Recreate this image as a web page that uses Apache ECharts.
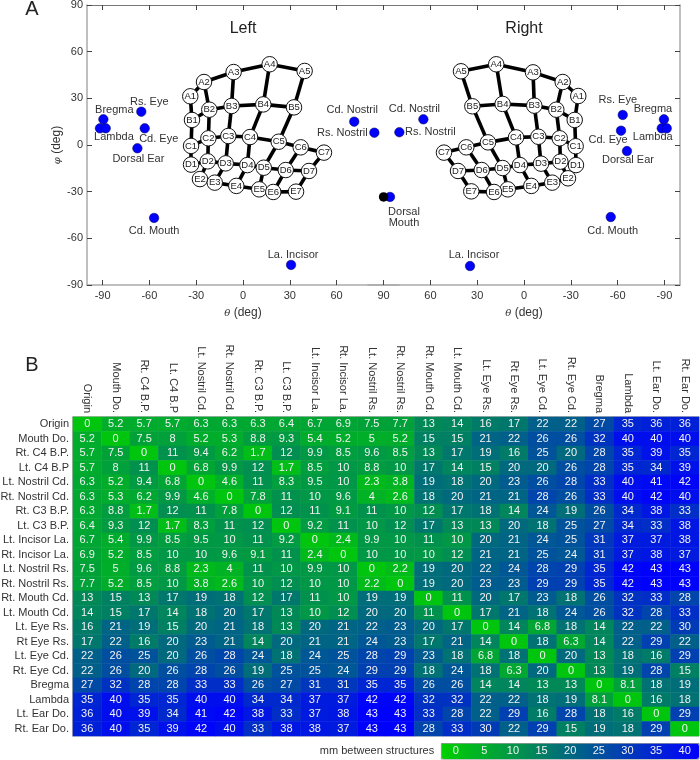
<!DOCTYPE html>
<html>
<head>
<meta charset="utf-8">
<style>
  html, body { margin: 0; padding: 0; background: #fff; }
  #main { width: 700px; height: 760px; }
</style>
<script src="https://cdn.jsdelivr.net/npm/echarts@6/dist/echarts.min.js"></script>
</head>
<body>
<div id="main"></div>
<script>
// Electrode mesh on each hemisphere: names and angular positions in degrees.
const meshNames = ['A1','A2','A3','A4','A5','B1','B2','B3','B4','B5',
  'C1','C2','C3','C4','C5','C6','C7','D1','D2','D3','D4','D5','D6','D7',
  'E2','E3','E4','E5','E6','E7'];
const leftMeshTheta = [-33.8,-25,-6,17.1,39.5,-32.7,-21.6,-7.3,13,32.7,
  -33.3,-22.2,-9.4,4.5,22.9,37,51.9,-33.3,-22.6,-11.1,2.8,13.3,27.4,42.3,
  -27.6,-18.1,-4.3,10.4,19.4,34];
const leftMeshPhi = [31.3,40.5,46.9,51.9,47.6,16.1,22.7,25.1,26.1,24.2,
  -0.6,4.3,5.8,5.1,2.1,-1.5,-4.9,-12.6,-10.5,-11.8,-12.9,-14.6,-16.1,-16.7,
  -21.9,-24.2,-26.3,-28.5,-30.2,-30];
const rightMeshTheta = [-34.8,-24.8,-5.8,17.8,40.4,-32.5,-20.7,-6.6,13.7,33.1,
  -33.1,-22.9,-9.2,5.1,23.1,37,51.3,-33.3,-23.3,-10.9,2.6,13.7,27.1,42.3,
  -28.2,-18.1,-4.7,10.4,19.2,33.8];
const rightMeshPhi = [31.5,40.5,46.7,51.9,47.4,16.1,22.7,25.3,26.4,24.9,
  -0.8,4.3,5.3,4.9,1.7,-1.5,-4.9,-12.9,-10.7,-12,-12.9,-14.8,-16.1,-16.7,
  -21.4,-24.2,-26.3,-28.5,-30.2,-29.8];
const meshEdges = [
  ['A1','A2'],['A2','A3'],['A3','A4'],['A4','A5'],
  ['A1','B1'],['A2','B2'],['A3','B3'],['A4','B4'],['A5','B5'],
  ['B1','B2'],['B2','B3'],['B3','B4'],['B4','B5'],
  ['B1','C1'],['B2','C2'],['B3','C3'],['B4','C4'],['B5','C5'],
  ['C1','C2'],['C2','C3'],['C3','C4'],['C4','C5'],['C5','C6'],['C6','C7'],
  ['C1','D1'],['C2','D2'],['C3','D3'],['C4','D4'],['C5','D5'],['C6','D6'],['C7','D7'],
  ['D1','D2'],['D2','D3'],['D3','D4'],['D4','D5'],['D5','D6'],['D6','D7'],
  ['D2','E2'],['D3','E3'],['D4','E4'],['D5','E5'],['D6','E6'],['D7','E7'],
  ['E2','E3'],['E3','E4'],['E4','E5'],['E5','E6'],['E6','E7']
];

// Anatomical landmarks on each hemisphere.
const leftMarkNames = ['Rs. Eye','Bregma','Lambda','','Cd. Eye','Dorsal Ear','Cd. Mouth','La. Incisor','Cd. Nostril','Rs. Nostril'];
const leftMarkTheta = [-65.2,-89.5,-91.7,-88,-63,-67.7,-57,30.8,71.3,84.2];
const leftMarkPhi = [21.4,16.5,10.7,10.7,10.7,-2.1,-46.9,-77.1,15,7.9];
const rightMarkNames = ['Rs. Eye','Bregma','Lambda','','Cd. Eye','Dorsal Ear','Cd. Mouth','La. Incisor','Cd. Nostril','Rs. Nostril','Dorsal\nMouth'];
const rightMarkTheta = [-63.3,-89.7,-88.3,-91.5,-62.2,-66,-55.6,34.6,64.5,79.9,85.9];
const rightMarkPhi = [19.3,16.5,10.7,10.7,9.2,-3.9,-46.3,-77.8,16.5,8.2,-33.4];
const originTheta = [90];
const originPhi = [-33.4];

// Tick values of the angular axes.
const leftThetaTicks = [-90,-60,-30,0,30,60];
const rightThetaTicks = [90,60,30,0,-30,-60,-90];

// Pairwise distances between structures, in mm.
const rowNames = ['Origin','Mouth Do.','Rt. C4 B.P.','Lt. C4 B.P','Lt. Nostril Cd.','Rt. Nostril Cd.',
  'Rt. C3 B.P.','Lt. C3 B.P.','Lt. Incisor La.','Rt. Incisor La.','Lt. Nostril Rs.','Rt. Nostril Rs.',
  'Rt. Mouth Cd.','Lt. Mouth Cd.','Lt. Eye Rs.','Rt Eye Rs.','Lt. Eye Cd.','Rt. Eye Cd.',
  'Bregma','Lambda','Lt. Ear Do.','Rt. Ear Do.'];
const distances = [
  [0,5.2,5.7,5.7,6.3,6.3,6.3,6.4,6.7,6.9,7.5,7.7,13,14,16,17,22,22,27,35,36,36],
  [5.2,0,7.5,8,5.2,5.3,8.8,9.3,5.4,5.2,5,5.2,15,15,21,22,26,26,32,40,40,40],
  [5.7,7.5,0,11,9.4,6.2,1.7,12,9.9,8.5,9.6,8.5,13,17,19,16,25,20,28,35,39,35],
  [5.7,8,11,0,6.8,9.9,12,1.7,8.5,10,8.8,10,17,14,15,20,20,26,28,35,34,39],
  [6.3,5.2,9.4,6.8,0,4.6,11,8.3,9.5,10,2.3,3.8,19,18,20,23,26,28,33,40,41,42],
  [6.3,5.3,6.2,9.9,4.6,0,7.8,11,10,9.6,4,2.6,18,20,21,21,28,26,33,40,42,40],
  [6.3,8.8,1.7,12,11,7.8,0,12,11,9.1,11,10,12,17,18,14,24,19,26,34,38,33],
  [6.4,9.3,12,1.7,8.3,11,12,0,9.2,11,10,12,17,13,13,20,18,25,27,34,33,38],
  [6.7,5.4,9.9,8.5,9.5,10,11,9.2,0,2.4,9.9,10,11,10,20,21,24,25,31,37,37,38],
  [6.9,5.2,8.5,10,10,9.6,9.1,11,2.4,0,10,10,10,12,21,21,25,24,31,37,38,37],
  [7.5,5,9.6,8.8,2.3,4,11,10,9.9,10,0,2.2,19,20,22,24,28,29,35,42,43,43],
  [7.7,5.2,8.5,10,3.8,2.6,10,12,10,10,2.2,0,19,20,23,23,29,29,35,42,43,43],
  [13,15,13,17,19,18,12,17,11,10,19,19,0,11,20,17,23,18,26,32,33,28],
  [14,15,17,14,18,20,17,13,10,12,20,20,11,0,17,21,18,24,26,32,28,33],
  [16,21,19,15,20,21,18,13,20,21,22,23,20,17,0,14,6.8,18,14,22,22,30],
  [17,22,16,20,23,21,14,20,21,21,24,23,17,21,14,0,18,6.3,14,22,29,22],
  [22,26,25,20,26,28,24,18,24,25,28,29,23,18,6.8,18,0,20,13,18,16,29],
  [22,26,20,26,28,26,19,25,25,24,29,29,18,24,18,6.3,20,0,13,19,28,15],
  [27,32,28,28,33,33,26,27,31,31,35,35,26,26,14,14,13,13,0,8.1,18,19],
  [35,40,35,35,40,40,34,34,37,37,42,42,32,32,22,22,18,19,8.1,0,16,18],
  [36,40,39,34,41,42,38,33,37,38,43,43,33,28,22,29,16,28,18,16,0,29],
  [36,40,35,39,42,40,33,38,38,37,43,43,28,33,30,22,29,15,19,18,29,0]
];
const scaleTicks = [0,5,10,15,20,25,30,35,40];

// Styling and layout.
const FONT = '"Liberation Sans", Arial, sans-serif';
const INK = '#333';
const FRAME = '#aaa';

// Landmark label offsets from the dot centre, in pixels.
const leftLabelOffsets = {
  'Rs. Eye':[8,-10], 'Bregma':[11,-9], 'Lambda':[14,9], 'Cd. Eye':[14,11], 'Dorsal Ear':[1,11],
  'Cd. Mouth':[0,13], 'La. Incisor':[2,-10], 'Cd. Nostril':[-2,-12], 'Rs. Nostril':[-32,0]
};
const rightLabelOffsets = {
  'Rs. Eye':[-5,-15], 'Bregma':[-11,-10], 'Lambda':[-9,9], 'Cd. Eye':[-13,9], 'Dorsal Ear':[1,9],
  'Cd. Mouth':[2,14], 'La. Incisor':[4,-11], 'Cd. Nostril':[-9,-10], 'Rs. Nostril':[31,0], 'Dorsal\nMouth':[14,21]
};

function meshSeries(thetas, phis, axisIndex) {
  return {
    type: 'graph',
    coordinateSystem: 'cartesian2d',
    xAxisIndex: axisIndex,
    yAxisIndex: axisIndex,
    layout: 'none',
    symbol: 'circle',
    symbolSize: 15.5,
    silent: true,
    z: 3,
    itemStyle: { color: '#fff', borderColor: '#111', borderWidth: 1, opacity: 1 },
    lineStyle: { color: '#000', width: 3.6, opacity: 1, curveness: 0 },
    label: { show: true, position: 'inside', formatter: '{b}', fontFamily: FONT, fontSize: 9.5, color: '#222' },
    data: meshNames.map((name, i) => ({ name, value: [thetas[i], phis[i]] })),
    links: meshEdges.map(([source, target]) => ({ source, target }))
  };
}

function markSeries(names, thetas, phis, offsets, axisIndex) {
  return {
    type: 'scatter',
    xAxisIndex: axisIndex,
    yAxisIndex: axisIndex,
    symbolSize: 9.5,
    silent: true,
    z: 4,
    itemStyle: { color: '#0000ff', borderColor: '#000050', borderWidth: 0.5, opacity: 1 },
    data: names.map((name, i) => ({
      name,
      value: [thetas[i], phis[i]],
      label: {
        show: name !== '',
        position: 'inside',
        formatter: name,
        offset: offsets[name] || [0, 0],
        color: INK,
        fontFamily: FONT,
        fontSize: 11,
        lineHeight: 11
      }
    }))
  };
}

const angleRich = { i: { fontStyle: 'italic', fontFamily: '"DejaVu Serif", "Liberation Serif", serif', fontSize: 10, color: INK } };

function thetaAxis(gridIndex, ticks, inverse, position, showLabels) {
  const top = position === 'top';
  return {
    type: 'value',
    gridIndex,
    position,
    min: -100,
    max: 100,
    inverse,
    name: top ? '' : '{i|\u03b8} (deg)',
    nameLocation: 'middle',
    nameGap: 22,
    nameTextStyle: { fontFamily: FONT, fontSize: 12, color: INK, rich: angleRich },
    splitLine: { show: false },
    axisLine: { show: true, onZero: false, lineStyle: { color: top ? '#777' : FRAME, width: top ? 1 : 1.5 } },
    axisTick: { show: true, inside: true, length: 5, customValues: ticks, lineStyle: { color: '#444', width: 1 } },
    axisLabel: {
      show: showLabels,
      customValues: ticks,
      margin: 5,
      fontFamily: FONT,
      fontSize: 11,
      color: INK
    }
  };
}

function phiAxis(gridIndex, position, showLabels) {
  return {
    type: 'value',
    gridIndex,
    position,
    min: -90,
    max: 90,
    interval: 30,
    name: showLabels ? '{i|\u03c6} (deg)' : '',
    nameLocation: 'middle',
    nameRotate: 90,
    nameGap: 24,
    nameTextStyle: { fontFamily: FONT, fontSize: 12, color: INK, rich: angleRich },
    splitLine: { show: false },
    axisLine: { show: true, onZero: false, lineStyle: { color: FRAME, width: 1.5 } },
    axisTick: { show: true, inside: true, length: 5, lineStyle: { color: '#444', width: 1 } },
    axisLabel: { show: showLabels, margin: 4, fontFamily: FONT, fontSize: 11, color: INK }
  };
}

function textMark(text, x, y, fontSize, fill) {
  return {
    type: 'text',
    x,
    y,
    silent: true,
    style: {
      text,
      fill: fill || '#222',
      font: fontSize + 'px ' + FONT,
      align: 'center',
      verticalAlign: 'middle'
    }
  };
}

const cells = [];
distances.forEach((row, r) => row.forEach((value, c) => cells.push([c, r, value])));

const option = {
  animation: false,
  backgroundColor: '#fff',
  textStyle: { fontFamily: FONT },
  grid: [
    { outerBoundsMode: 'none', left: 87, top: 5, width: 312, height: 280 },
    { outerBoundsMode: 'none', left: 368, top: 5, width: 312, height: 280 },
    { outerBoundsMode: 'none', left: 73, top: 417, width: 626, height: 319, show: true, borderColor: '#aaa', borderWidth: 1, backgroundColor: 'transparent' },
    { outerBoundsMode: 'none', left: 441.4, top: 743.5, width: 257.6, height: 15.5, show: true, borderColor: '#888', borderWidth: 1, backgroundColor: 'transparent' }
  ],
  xAxis: [
    thetaAxis(0, leftThetaTicks, false, 'bottom', true),
    thetaAxis(1, rightThetaTicks, true, 'bottom', true),
    thetaAxis(0, leftThetaTicks, false, 'top', false),
    thetaAxis(1, rightThetaTicks, true, 'top', false),
    {
      type: 'category',
      gridIndex: 2,
      position: 'top',
      data: rowNames,
      axisLine: { show: true, lineStyle: { color: '#aaa', width: 1.5 } },
      axisTick: { show: false },
      axisLabel: { interval: 0, rotate: 90, margin: 4, fontFamily: FONT, fontSize: 11, color: INK }
    },
    {
      type: 'value',
      gridIndex: 3,
      min: -2.5,
      max: 42.5,
      z: 10,
      splitLine: { show: false },
      axisLine: { show: false },
      axisTick: { show: false },
      axisLabel: {
        inside: true,
        customValues: scaleTicks,
        margin: 2.5,
        fontFamily: FONT,
        fontSize: 11,
        color: '#f2f2f2'
      }
    }
  ],
  yAxis: [
    phiAxis(0, 'left', true),
    phiAxis(1, 'right', false),
    {
      type: 'category',
      gridIndex: 2,
      inverse: true,
      data: rowNames,
      axisLine: { show: true, lineStyle: { color: '#aaa', width: 1.5 } },
      axisTick: { show: false },
      axisLabel: { interval: 0, margin: 4, fontFamily: FONT, fontSize: 11, color: INK }
    },
    { type: 'value', gridIndex: 3, show: false, min: 0, max: 1 }
  ],
  visualMap: {
    type: 'continuous',
    seriesIndex: 0,
    min: -2.5,
    max: 43,
    orient: 'horizontal',
    left: 441.4,
    top: 743.5,
    padding: 0,
    itemWidth: 15.5,
    itemHeight: 257.6,
    calculable: false,
    hoverLink: false,
    text: null,
    inRange: { color: ['#00d000', '#0000ff'] }
  },
  series: [
    {
      type: 'heatmap',
      xAxisIndex: 4,
      yAxisIndex: 2,
      data: cells,
      silent: true,
      label: {
        show: true,
        formatter: (p) => String(p.value[2]),
        fontFamily: FONT,
        fontSize: 11,
        color: '#f2f2f2'
      }
    },
    meshSeries(leftMeshTheta, leftMeshPhi, 0),
    meshSeries(rightMeshTheta, rightMeshPhi, 1),
    markSeries(leftMarkNames, leftMarkTheta, leftMarkPhi, leftLabelOffsets, 0),
    markSeries(rightMarkNames, rightMarkTheta, rightMarkPhi, rightLabelOffsets, 1),
    {
      type: 'scatter',
      xAxisIndex: 1,
      yAxisIndex: 1,
      symbolSize: 9.5,
      silent: true,
      z: 5,
      itemStyle: { color: '#000', opacity: 1 },
      data: originTheta.map((t, i) => [t, originPhi[i]])
    }
  ],
  graphic: [
    textMark('A', 32, 9, 20),
    textMark('B', 32, 365, 20),
    textMark('Left', 243, 29, 16),
    textMark('Right', 524, 29, 16),
    textMark('mm between structures', 377, 751, 11, INK)
  ]
};

const chart = echarts.init(document.getElementById('main'));
chart.setOption(option);
</script>
</body>
</html>
